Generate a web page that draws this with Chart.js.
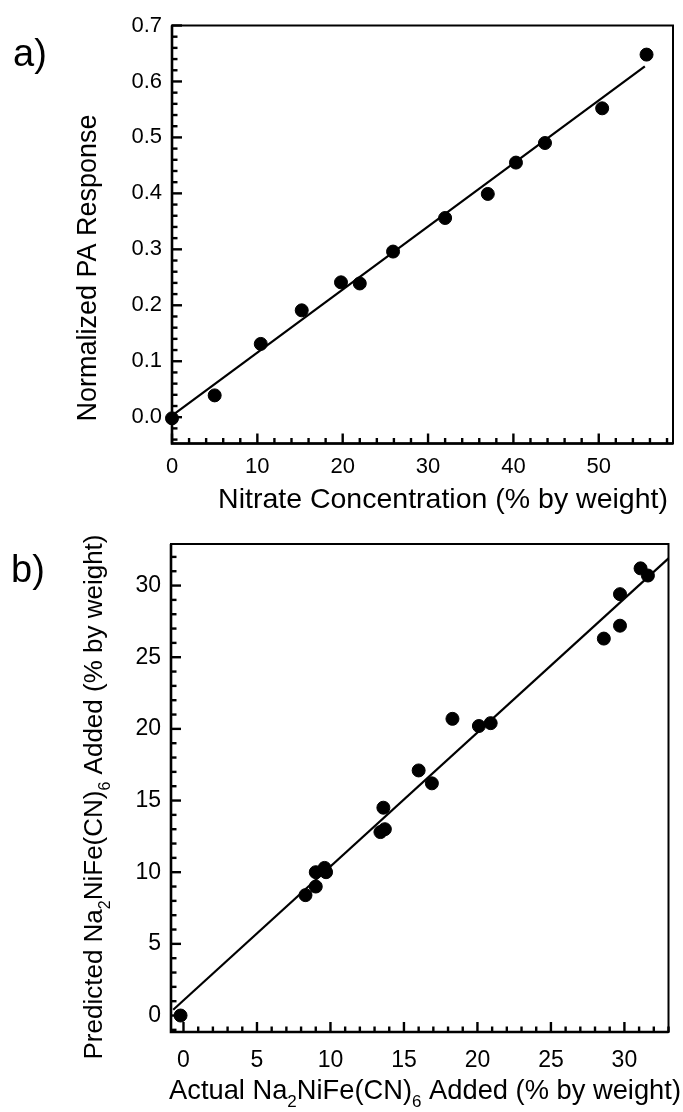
<!DOCTYPE html>
<html>
<head>
<meta charset="utf-8">
<script src="https://cdn.jsdelivr.net/npm/chart.js@4.4.1/dist/chart.umd.min.js"></script>
<style>
  html, body { margin: 0; padding: 0; background: #fff; }
  #wrap { position: relative; width: 683px; height: 1112px; overflow: hidden; }
  canvas { position: absolute; left: 0; }
  #chartA { top: 0; }
  #chartB { top: 516px; }
</style>
</head>
<body>
<div id="wrap">
  <canvas id="chartA" width="683" height="516"></canvas>
  <canvas id="chartB" width="683" height="596"></canvas>
</div>
<script>
// panel a) nitrate calibration
const nitrateConc = [0, 5.0, 10.4, 15.2, 19.8, 22.0, 25.9, 32.0, 37.0, 40.3, 43.7, 50.4, 55.6];
const paResponse = [-0.002, 0.039, 0.131, 0.191, 0.241, 0.239, 0.296, 0.356, 0.399, 0.455, 0.490, 0.552, 0.648];
const fitAX = [0, 55.4];
const fitAY = [0.003, 0.627];
const aXTicks = [0, 10, 20, 30, 40, 50];
const aYTicks = [0, 0.1, 0.2, 0.3, 0.4, 0.5, 0.6, 0.7];

// panel b) predicted vs actual Na2NiFe(CN)6
const actualNi = [-0.2, 8.3, 9.0, 9.0, 9.6, 9.7, 13.4, 13.7, 13.6, 16.0, 16.9, 18.3, 20.1, 20.9, 28.6, 29.7, 29.7, 31.1, 31.6];
const predictedNi = [0.0, 8.4, 9.0, 10.0, 10.3, 10.0, 12.8, 13.0, 14.5, 17.1, 16.2, 20.7, 20.2, 20.4, 26.3, 27.2, 29.4, 31.2, 30.7];
const fitBX = [-0.7, 33.0];
const fitBY = [0.4, 31.9];
const bXTicks = [0, 5, 10, 15, 20, 25, 30];
const bYTicks = [0, 5, 10, 15, 20, 25, 30];

const FONT = "'Liberation Sans', Arial, Helvetica, sans-serif";

function toPoints(xs, ys) {
  return xs.map((x, i) => ({ x, y: ys[i] }));
}

// box around the plot + inward minor/major ticks on left and bottom
function frameTicks(f) {
  return {
    id: 'frameTicks' + f.tag,
    afterDraw(chart) {
      const ctx = chart.ctx;
      const a = chart.chartArea;
      const x = chart.scales.x, y = chart.scales.y;
      ctx.save();
      ctx.strokeStyle = '#000';
      ctx.lineWidth = 2;
      ctx.strokeRect(a.left, a.top, a.right - a.left, a.bottom - a.top);
      // heavier left and bottom axis lines
      ctx.lineWidth = 2.6;
      ctx.beginPath();
      ctx.moveTo(a.left, a.top);
      ctx.lineTo(a.left, a.bottom);
      ctx.lineTo(a.right, a.bottom);
      ctx.stroke();
      ctx.lineWidth = 2.4;
      const nx = Math.round((x.max - x.min) / f.xMinor) + 2;
      for (let k = 0; k < nx; k++) {
        const v = Math.ceil(x.min / f.xMinor - 1e-6) * f.xMinor + k * f.xMinor;
        if (v > x.max + 1e-6) break;
        const major = Math.abs(v / f.xMajor - Math.round(v / f.xMajor)) < 1e-6;
        const px = x.getPixelForValue(v);
        ctx.beginPath();
        ctx.moveTo(px, a.bottom);
        ctx.lineTo(px, a.bottom - (major ? 10 : 5.5));
        ctx.stroke();
      }
      const ny = Math.round((y.max - y.min) / f.yMinor) + 2;
      for (let k = 0; k < ny; k++) {
        const v = Math.ceil(y.min / f.yMinor - 1e-6) * f.yMinor + k * f.yMinor;
        if (v > y.max + 1e-6) break;
        const major = Math.abs(v / f.yMajor - Math.round(v / f.yMajor)) < 1e-6;
        const py = y.getPixelForValue(v);
        ctx.beginPath();
        ctx.moveTo(a.left, py);
        ctx.lineTo(a.left + (major ? 10 : 5.5), py);
        ctx.stroke();
      }
      ctx.restore();
    }
  };
}

// axis titles with subscripts, drawn as canvas text
function drawRich(ctx, segs, cx, cy, size, rotate) {
  const subSize = Math.round(size * 0.62);
  let total = 0;
  for (const s of segs) {
    ctx.font = (s.sub ? subSize : size) + 'px ' + FONT;
    total += ctx.measureText(s.t).width;
  }
  ctx.save();
  ctx.translate(cx, cy);
  if (rotate) ctx.rotate(-Math.PI / 2);
  ctx.fillStyle = '#000';
  ctx.textBaseline = 'middle';
  ctx.textAlign = 'left';
  let xPos = -total / 2;
  for (const s of segs) {
    ctx.font = (s.sub ? subSize : size) + 'px ' + FONT;
    ctx.fillText(s.t, xPos, s.sub ? size * 0.4 : 0);
    xPos += ctx.measureText(s.t).width;
  }
  ctx.restore();
}

function titles(items, tag) {
  return {
    id: 'titles' + tag,
    afterDraw(chart) {
      for (const t of items) drawRich(chart.ctx, t.segs, t.x, t.y, t.size, t.rotate);
    }
  };
}

function makeChart(id, cfg) {
  return new Chart(document.getElementById(id), {
    type: 'scatter',
    data: {
      datasets: [
        {
          data: toPoints(cfg.xs, cfg.ys),
          backgroundColor: '#000',
          borderColor: '#000',
          pointRadius: 6.5,
          pointHoverRadius: 6.5,
          clip: false
        },
        {
          type: 'line',
          data: toPoints(cfg.fitX, cfg.fitY),
          borderColor: '#000',
          borderWidth: 2.2,
          pointRadius: 0,
          fill: false,
          clip: false
        }
      ]
    },
    options: {
      responsive: false,
      animation: false,
      events: [],
      layout: { padding: cfg.padding },
      plugins: {
        legend: { display: false },
        tooltip: { enabled: false }
      },
      scales: {
        x: {
          type: 'linear',
          min: cfg.xMin, max: cfg.xMax,
          grid: { display: false, drawTicks: false },
          border: { display: false },
          afterBuildTicks: s => { s.ticks = cfg.xTicks.map(v => ({ value: v })); },
          afterFit: s => { s.height = 40; },
          ticks: {
            color: '#000',
            padding: cfg.xPad,
            maxRotation: 0,
            font: { family: FONT, size: cfg.tickSize },
            callback: cfg.xFmt
          }
        },
        y: {
          type: 'linear',
          min: cfg.yMin, max: cfg.yMax,
          grid: { display: false, drawTicks: false },
          border: { display: false },
          afterBuildTicks: s => { s.ticks = cfg.yTicks.map(v => ({ value: v })); },
          afterFit: s => { s.width = cfg.yWidth; },
          ticks: {
            color: '#000',
            padding: 10,
            font: { family: FONT, size: cfg.tickSize },
            callback: cfg.yFmt
          }
        }
      }
    },
    plugins: [frameTicks(cfg.frame), titles(cfg.titles, cfg.frame.tag)]
  });
}

makeChart('chartA', {
  xs: nitrateConc, ys: paResponse, fitX: fitAX, fitY: fitAY,
  xMin: 0, xMax: 58.7, yMin: -0.047, yMax: 0.7,
  xTicks: aXTicks, yTicks: aYTicks,
  xFmt: v => String(v), yFmt: v => v.toFixed(1),
  tickSize: 22, xPad: 10, yWidth: 172,
  padding: { top: 25.5, right: 10, bottom: 32.5, left: 0 },
  frame: { tag: 'A', xMinor: 2, xMajor: 10, yMinor: 0.02, yMajor: 0.1 },
  titles: [
    { segs: [{ t: 'Nitrate Concentration (% by weight)' }], x: 443, y: 500, size: 28.5 },
    { segs: [{ t: 'Normalized PA Response' }], x: 89, y: 268, size: 27, rotate: true },
    { segs: [{ t: 'a)' }], x: 30, y: 56, size: 38 }
  ]
});

makeChart('chartB', {
  xs: actualNi, ys: predictedNi, fitX: fitBX, fitY: fitBY,
  xMin: -0.85, xMax: 33.0, yMin: -1.15, yMax: 32.9,
  xTicks: bXTicks, yTicks: bYTicks,
  xFmt: v => String(v), yFmt: v => String(v),
  tickSize: 23, xPad: 15, yWidth: 171,
  padding: { top: 28, right: 14.5, bottom: 40, left: 0 },
  frame: { tag: 'B', xMinor: 1, xMajor: 5, yMinor: 1, yMajor: 5 },
  titles: [
    { segs: [{ t: 'Actual Na' }, { t: '2', sub: true }, { t: 'NiFe(CN)' }, { t: '6', sub: true }, { t: ' Added (% by weight)' }],
      x: 425, y: 575, size: 27.3 },
    { segs: [{ t: 'Predicted Na' }, { t: '2', sub: true }, { t: 'NiFe(CN)' }, { t: '6', sub: true }, { t: ' Added (% by weight)' }],
      x: 95, y: 281, size: 26, rotate: true },
    { segs: [{ t: 'b)' }], x: 28, y: 56, size: 38 }
  ]
});
</script>
</body>
</html>
